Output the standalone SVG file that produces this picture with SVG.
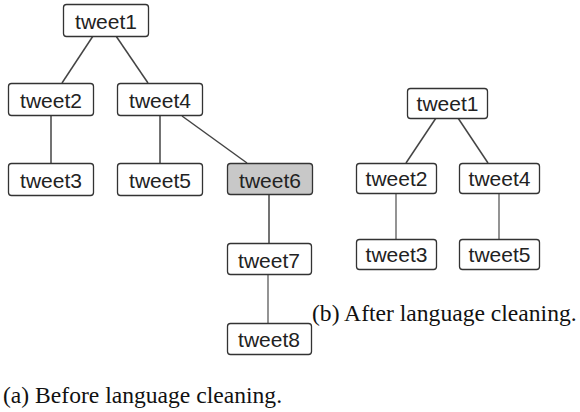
<svg xmlns="http://www.w3.org/2000/svg" width="580" height="412" viewBox="0 0 580 412">
<style>
.box{fill:#fff;stroke:#333;stroke-width:1.3}
.hl{fill:#c8c8c8}
.lbl{font-family:"Liberation Sans",Arial,sans-serif;font-size:21px;fill:#222;text-anchor:middle}
.cap{font-family:"Liberation Serif","Times New Roman",serif;font-size:23.6px;fill:#111}
.d{stroke:#444;stroke-width:1.5;fill:none}
.g{stroke:#888;stroke-width:1.8;fill:none}
</style>
<rect width="580" height="412" fill="#fff"/>
<g id="connectors">
<line class="d" x1="93" y1="36" x2="62" y2="83"/>
<line class="d" x1="116" y1="36" x2="148" y2="83"/>
<line class="d" x1="51" y1="116" x2="51" y2="163"/>
<line class="d" x1="160" y1="116" x2="160" y2="163"/>
<line class="d" x1="182" y1="116" x2="247" y2="163"/>
<line class="d" x1="269" y1="195" x2="269" y2="243"/>
<line class="g" x1="268" y1="275" x2="268" y2="323"/>
<line class="d" x1="436" y1="118" x2="406" y2="163"/>
<line class="d" x1="458" y1="118" x2="488" y2="163"/>
<line class="g" x1="396" y1="194" x2="396" y2="239"/>
<line class="g" x1="499" y1="194" x2="499" y2="239"/>
</g>
<g id="a-tweet1"><rect class="box" x="63.5" y="4.5" width="85" height="32" rx="3"/><text class="lbl" x="106" y="29">tweet1</text></g>
<g id="a-tweet2"><rect class="box" x="8.5" y="83.5" width="85" height="32" rx="3"/><text class="lbl" x="51" y="108">tweet2</text></g>
<g id="a-tweet4"><rect class="box" x="117.5" y="83.5" width="85" height="32" rx="3"/><text class="lbl" x="160" y="108">tweet4</text></g>
<g id="a-tweet3"><rect class="box" x="8.5" y="163.5" width="85" height="32" rx="3"/><text class="lbl" x="51" y="188">tweet3</text></g>
<g id="a-tweet5"><rect class="box" x="117.5" y="163.5" width="85" height="32" rx="3"/><text class="lbl" x="160" y="188">tweet5</text></g>
<g id="a-tweet6"><rect class="box hl" x="227.5" y="163.5" width="85" height="31" rx="3"/><text class="lbl" x="270" y="188">tweet6</text></g>
<g id="a-tweet7"><rect class="box" x="227.5" y="243.5" width="84" height="31" rx="3"/><text class="lbl" x="269" y="268">tweet7</text></g>
<g id="a-tweet8"><rect class="box" x="227.5" y="323.5" width="84" height="31" rx="3"/><text class="lbl" x="269" y="347">tweet8</text></g>
<g id="b-tweet1"><rect class="box" x="407.5" y="88.5" width="80" height="30" rx="3"/><text class="lbl" x="447.5" y="111">tweet1</text></g>
<g id="b-tweet2"><rect class="box" x="356.5" y="163.5" width="80" height="30" rx="3"/><text class="lbl" x="396.5" y="186">tweet2</text></g>
<g id="b-tweet4"><rect class="box" x="459.5" y="163.5" width="80" height="30" rx="3"/><text class="lbl" x="499.5" y="186">tweet4</text></g>
<g id="b-tweet3"><rect class="box" x="356.5" y="239.5" width="80" height="30" rx="3"/><text class="lbl" x="396.5" y="262">tweet3</text></g>
<g id="b-tweet5"><rect class="box" x="459.5" y="239.5" width="80" height="30" rx="3"/><text class="lbl" x="499.5" y="262">tweet5</text></g>
<text class="cap" x="312" y="321">(b) After language cleaning.</text>
<text class="cap" x="3" y="403">(a) Before language cleaning.</text>
</svg>
